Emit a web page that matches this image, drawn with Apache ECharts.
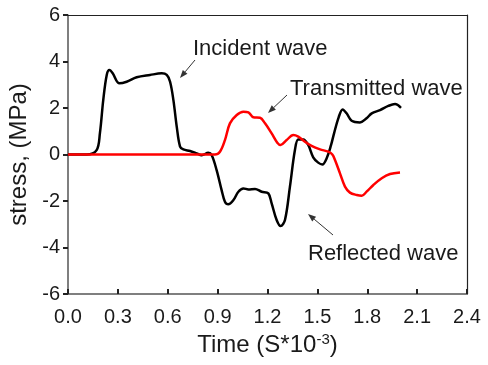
<!DOCTYPE html>
<html><head><meta charset="utf-8">
<script src="https://cdn.jsdelivr.net/npm/echarts@6/dist/echarts.min.js"></script>
<style>html,body{margin:0;padding:0;background:#fff}#c{width:488px;height:365px}</style>
</head><body><div id="c"></div>
<script>
var xTicks = ['0.0','0.3','0.6','0.9','1.2','1.5','1.8','2.1','2.4'];
var yTicks = ['-6','-4','-2','0','2','4','6'];

var incidentT = [0,0.112,0.172,0.192,0.212,0.233,0.249,0.269,0.309,0.353,0.413,0.493,0.564,0.594,0.614,0.634,0.654,0.674,0.694,0.734,0.774,0.804,0.844,0.864,0.894,0.924,0.944,0.964,0.995,1.025,1.055,1.085,1.125,1.165,1.205,1.225,1.255,1.279,1.305,1.335,1.365,1.385,1.415,1.445,1.475,1.505,1.530,1.556,1.582,1.600,1.628,1.652,1.676,1.706,1.756,1.796,1.827,1.877,1.927,1.967,2.003];
var incidentV = [0,0,0.19,0.92,2.34,3.42,3.63,3.49,3.06,3.13,3.32,3.42,3.49,3.42,3.13,2.34,1.2,0.34,0.22,0.15,0.05,-0.03,0.07,-0.02,-0.67,-1.53,-2.03,-2.14,-1.96,-1.6,-1.46,-1.5,-1.48,-1.6,-1.67,-2.1,-2.82,-3.08,-2.82,-1.38,0.19,0.65,0.65,0.41,-0.12,-0.35,-0.43,-0.16,0.4,0.9,1.6,1.94,1.77,1.45,1.38,1.56,1.77,1.91,2.09,2.17,2.01];

var transT = [0,0.884,0.914,0.944,0.974,1.015,1.055,1.085,1.115,1.155,1.185,1.225,1.259,1.279,1.315,1.355,1.385,1.425,1.465,1.516,1.566,1.590,1.606,1.636,1.666,1.696,1.737,1.767,1.796,1.837,1.887,1.937,1.997];
var transV = [0,0,0.12,0.62,1.34,1.7,1.84,1.81,1.6,1.58,1.34,0.91,0.51,0.41,0.62,0.84,0.77,0.55,0.37,0.22,0.12,0.0,-0.24,-0.81,-1.38,-1.64,-1.74,-1.77,-1.6,-1.31,-1.02,-0.84,-0.77];

function zip(a,b){return a.map(function(v,i){return [v,b[i]];});}

function arrow(x1,y1,x2,y2){
  var dx=x2-x1, dy=y2-y1, L=Math.sqrt(dx*dx+dy*dy), ux=dx/L, uy=dy/L;
  var hl=8, hw=3;
  var bx=x2-hl*ux, by=y2-hl*uy;
  return [
    {type:'line',shape:{x1:x1,y1:y1,x2:bx,y2:by},style:{stroke:'#333',lineWidth:1}},
    {type:'polygon',shape:{points:[[x2,y2],[bx-hw*uy,by+hw*ux],[bx+hw*uy,by-hw*ux]]},style:{fill:'#333'}}
  ];
}
var font = '"Liberation Sans", Arial, sans-serif';
function txt(x,y,s){return {type:'text',x:x,y:y,style:{text:s,fill:'#1a1a1a',font:'22px '+font,textVerticalAlign:'middle'}};}

var chart = echarts.init(document.getElementById('c'), null, {renderer:'canvas'});
chart.setOption({
  animation:false,
  backgroundColor:'#fff',
  grid:{left:68,right:21,top:15,bottom:71,containLabel:false,outerBoundsMode:'none',show:false},
  xAxis:[{type:'value',min:0,max:2.4,interval:0.3,position:'bottom',
    name:'{a|Time (S*10}{s|-3}{a|)}',nameLocation:'middle',nameGap:36,
    nameTextStyle:{rich:{a:{fontSize:24,fontFamily:font,color:'#1a1a1a',lineHeight:26},s:{fontSize:15,fontFamily:font,color:'#1a1a1a',verticalAlign:'top',lineHeight:26,padding:[0,0,12,0]}}},
    axisLine:{show:true,onZero:false,lineStyle:{color:'#555',width:1.5}},
    axisTick:{inside:true,length:5,lineStyle:{color:'#222',width:2}},
    axisLabel:{margin:13,fontSize:20,fontFamily:font,color:'#1a1a1a',formatter:function(v){var s=v.toFixed(1);return xTicks.indexOf(s)>=0?s:'';}},
    splitLine:{show:false}},
    {type:'value',min:0,max:2.4,position:'top',axisLine:{show:true,onZero:false,lineStyle:{color:'#222',width:1.2}},axisTick:{show:false},axisLabel:{show:false},splitLine:{show:false}}],
  yAxis:[{type:'value',min:-6,max:6,interval:2,position:'left',
    name:'stress, (MPa)',nameLocation:'middle',nameGap:31,nameRotate:90,
    nameTextStyle:{fontSize:24,fontFamily:font,color:'#1a1a1a'},
    axisLine:{show:true,onZero:false,lineStyle:{color:'#555',width:1.5}},
    axisTick:{show:true,inside:false,length:5,lineStyle:{color:'#222',width:2}},
    axisLabel:{margin:8,fontSize:20,fontFamily:font,color:'#1a1a1a',formatter:function(v){var s=String(v);return yTicks.indexOf(s)>=0?s:'';}},
    splitLine:{show:false}},
    {type:'value',min:-6,max:6,position:'right',axisLine:{show:true,onZero:false,lineStyle:{color:'#222',width:1.2}},axisTick:{show:false},axisLabel:{show:false},splitLine:{show:false}}],
  series:[
    {type:'line',data:zip(incidentT,incidentV),smooth:0.35,showSymbol:false,lineStyle:{color:'#000',width:2.5},z:2},
    {type:'line',data:zip(transT,transV),smooth:0.35,showSymbol:false,lineStyle:{color:'#ff0000',width:2.5},z:3}
  ],
  graphic:[].concat(
    [txt(193,49,'Incident wave'),txt(290,89,'Transmitted wave'),txt(308,254,'Reflected wave')],
    arrow(195,60,180,78),arrow(287,95,268,113),arrow(333,235,308,214)
  )
});
</script></body></html>
